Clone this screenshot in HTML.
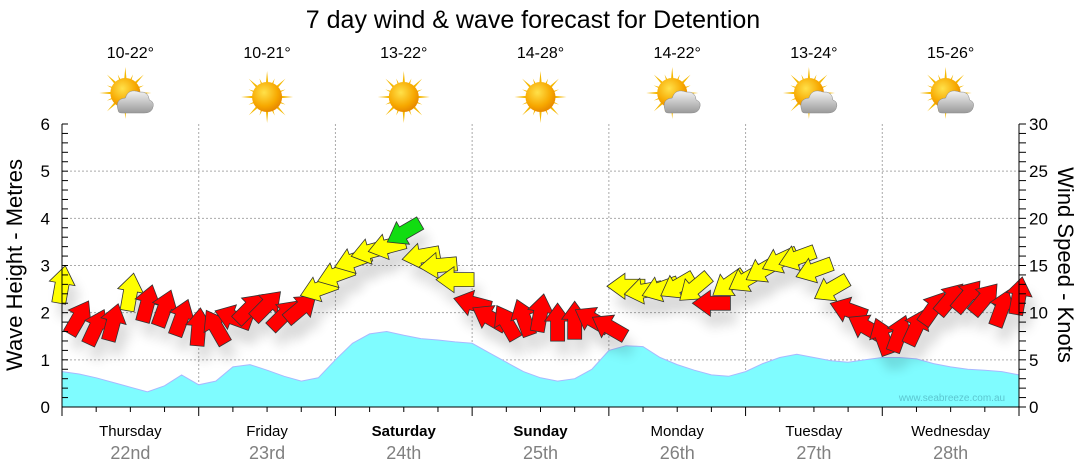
<!DOCTYPE html>
<html><head><meta charset="utf-8"><style>
body{margin:0;background:#fff;}
svg{display:block;font-family:"Liberation Sans",sans-serif;}
</style></head><body>
<svg id="c" width="1080" height="475" viewBox="0 0 1080 475">
<defs>
<radialGradient id="sunG" cx="40%" cy="35%" r="65%"><stop offset="0" stop-color="#ffe14a"/><stop offset="0.7" stop-color="#f7a800"/><stop offset="1" stop-color="#e88a00"/></radialGradient>
<linearGradient id="cloudG" x1="0" y1="0" x2="0" y2="1"><stop offset="0" stop-color="#f2f2f2"/><stop offset="1" stop-color="#9a9a9a"/></linearGradient>
<filter id="sh" x="-30%" y="-30%" width="160%" height="160%"><feGaussianBlur stdDeviation="6"/></filter>
</defs>
<text x="533" y="28" font-size="25" text-anchor="middle" fill="#000">7 day wind &amp; wave forecast for Detention</text>
<g id="grid"></g>
<g id="waves"></g>
<g id="shadows" opacity="0.15"></g>
<g id="arrows"></g>
<g id="axes"></g>
<g id="header"></g>
<text x="952" y="401" font-size="10" fill="#5cc6d0" text-anchor="middle">www.seabreeze.com.au</text>
<text transform="translate(22,265) rotate(-90)" font-size="22" text-anchor="middle">Wave Height - Metres</text>
<text transform="translate(1058,265) rotate(90)" font-size="22" text-anchor="middle">Wind Speed - Knots</text>
</svg>
<script>
const days=["Thursday","Friday","Saturday","Sunday","Monday","Tuesday","Wednesday"];
const dates=["22nd","23rd","24th","25th","26th","27th","28th"];
const boldDays=[false,false,true,true,false,false,false];
const temps=["10-22°","10-21°","13-22°","14-28°","14-22°","13-24°","15-26°"];
const icons=["cloud","sun","sun","sun","cloud","cloud","cloud"];
const waveHeights=[0.75,0.7,0.62,0.52,0.42,0.32,0.45,0.68,0.47,0.55,0.85,0.9,0.78,0.65,0.55,0.62,1.0,1.35,1.55,1.6,1.52,1.45,1.42,1.38,1.35,1.15,0.95,0.75,0.62,0.55,0.6,0.8,1.2,1.3,1.28,1.05,0.9,0.78,0.68,0.65,0.75,0.92,1.05,1.12,1.05,0.98,0.95,1.0,1.05,1.05,1.02,0.92,0.85,0.8,0.78,0.75,0.68];
const windSpeeds=[13,9.5,8.5,9,12.2,11,10.5,9.5,8.5,8.5,9.5,10.5,10.8,9.8,10.5,12.5,14,15.5,16.5,17,18.5,16,15,13.5,11,9.5,9,9.5,10,9,9.2,9.3,8.5,12.8,12.3,12.5,12.8,12.6,11,13,13.5,14.5,15.5,15.8,14.5,12.5,10.3,8.5,7.5,7.8,8.5,10.5,11.5,11.8,11.5,10.5,11.8];
const windDirs=[10,30,25,15,10,15,20,20,5,-30,-70,45,45,45,50,250,250,250,255,255,240,260,265,270,285,300,330,340,10,0,0,300,300,270,260,250,240,230,270,235,240,240,245,250,250,240,290,300,340,20,25,35,40,40,40,20,10];
const waveTicks=[0,1,2,3,4,5,6];
const windTicks=[0,5,10,15,20,25,30];

const NS="http://www.w3.org/2000/svg";
const X0=62,X1=1019,Y0=407,Y1=124;
const dayW=(X1-X0)/7;
const steps=waveHeights.length-1;
const xAt=i=>X0+(X1-X0)*i/steps;
const yM=m=>Y0-(Y0-Y1)*m/6;
const yK=k=>Y0-(Y0-Y1)*k/30;
function mk(tag,attrs,parent){const e=document.createElementNS(NS,tag);for(const k in attrs)e.setAttribute(k,attrs[k]);parent.appendChild(e);return e;}
const grid=document.getElementById('grid'),axes=document.getElementById('axes');
waveTicks.forEach(t=>{if(t>0&&t<6){const l=mk('line',{x1:X0,x2:X1,y1:yM(t),y2:yM(t),stroke:'#aaa','stroke-dasharray':'2,2'},grid);

}});
for(let d=1;d<7;d++){const l=mk('line',{x1:X0+d*dayW,x2:X0+d*dayW,y1:Y1,y2:Y0,stroke:'#aaa','stroke-dasharray':'2,2'},grid);

}
let pts=[];waveHeights.forEach((h,i)=>pts.push(xAt(i).toFixed(1)+','+yM(h).toFixed(1)));
const wave=mk('polygon',{points:X0+','+Y0+' '+pts.join(' ')+' '+X1+','+Y0,fill:'#7ffcff',stroke:'#a8b8ff','stroke-width':1},document.getElementById('waves'));


const ag=document.getElementById('arrows'),sg=document.getElementById('shadows');
const shape="0,-19 13,-1 7,-1 7,19 -7,19 -7,-1 -13,-1";
windSpeeds.forEach((s,i)=>{
 const x=xAt(i),y=yK(s),a=windDirs[i];
 const col=s>=18?'#11dd11':(s>=12?'#ffff00':'#ff0000');
 const sh=mk('polygon',{points:shape,fill:'#000',filter:'url(#sh)',transform:`translate(${x+6},${y+14}) rotate(${a})`},sg);
 
 
 const p=mk('polygon',{points:shape,fill:col,stroke:'#333','stroke-width':0.8,transform:`translate(${x},${y}) rotate(${a})`},ag);
 
 
});
mk('line',{x1:X0,x2:X0,y1:Y1,y2:Y0,stroke:'#000'},axes);
mk('line',{x1:X1,x2:X1,y1:Y1,y2:Y0,stroke:'#000'},axes);
mk('line',{x1:X0,x2:X1,y1:Y0,y2:Y0,stroke:'#000'},axes);
for(let m=0;m<=30;m++){const y=yM(m*0.2);mk('line',{x1:X0,x2:X0+6,y1:y,y2:y,stroke:'#000'},axes);}
for(let k=0;k<=30;k++){const y=yK(k);mk('line',{x1:X1,x2:X1+7,y1:y,y2:y,stroke:'#000'},axes);}
waveTicks.forEach(t=>{const e=mk('text',{x:X0-12,y:yM(t)+6,'font-size':17,'text-anchor':'end'},axes);e.textContent=t;

});
windTicks.forEach(t=>{const e=mk('text',{x:X1+10,y:yK(t)+6,'font-size':17},axes);e.textContent=t;

});
for(let q=0;q<=28;q++){const x=X0+q*dayW/4;mk('line',{x1:x,x2:x,y1:Y0,y2:Y0+(q%4==0?9:5),stroke:'#000'},axes);}
const hd=document.getElementById('header');
days.forEach((d,i)=>{
 const cx=X0+dayW*(i+0.5);
 const t=mk('text',{x:cx,y:436,'font-size':15,'text-anchor':'middle','font-weight':boldDays[i]?'bold':'normal'},axes);t.textContent=d;
 
 
 const t2=mk('text',{x:cx,y:459,'font-size':18,'text-anchor':'middle',fill:'#808080'},axes);t2.textContent=dates[i];
 
 
 const t3=mk('text',{x:cx,y:58,'font-size':16,'text-anchor':'middle'},hd);t3.textContent=temps[i];
 
 
 const g=mk('g',{transform:`translate(${cx},97)`},hd);
 
 
 const sx=icons[i]=='cloud'?-5:0, sy=icons[i]=='cloud'?-4:0;
 for(let r=0;r<16;r++){const len=r%2?20:26;mk('polygon',{points:`-2.5,0 2.5,0 0,-${len}`,fill:'#f5b800',transform:`translate(${sx},${sy}) rotate(${r*22.5})`},g);}
 mk('circle',{cx:sx,cy:sy,r:15,fill:'url(#sunG)'},g);
 if(icons[i]=='cloud'){
  mk('path',{d:'M-12,14 Q-16,2 -5,1 Q-2,-9 9,-5 Q18,-6 19,3 Q25,5 22,12 Q20,16 14,16 L-8,16 Q-12,16 -12,14Z',fill:'url(#cloudG)',stroke:'#888','stroke-width':0.5},g);
 }
});
</script>
</body></html>
